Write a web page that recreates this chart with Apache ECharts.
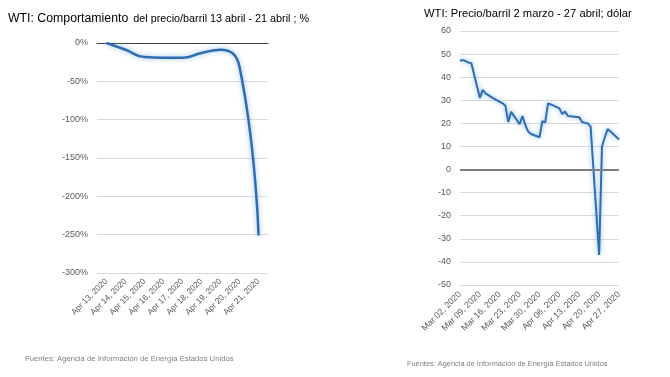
<!DOCTYPE html>
<html>
<head>
<meta charset="utf-8">
<script src="https://cdn.jsdelivr.net/npm/echarts@6/dist/echarts.min.js"></script>
<style>
html, body { margin: 0; padding: 0; background: #fff; }
#chart { width: 670px; height: 377px; }
</style>
</head>
<body>
<div id="chart"></div>
<script>
// Comportamiento del precio 13 - 21 abril (%)
var diasAbril = ['Apr 13, 2020', 'Apr 14, 2020', 'Apr 15, 2020', 'Apr 16, 2020', 'Apr 17, 2020',
    'Apr 18, 2020', 'Apr 19, 2020', 'Apr 20, 2020', 'Apr 21, 2020'];
var variacion = [0, -8.8, -18.4, -19.3, -19.3, -13, -8.8, -31, -251];

// Precio por barril 2 marzo - 27 abril (dolar)
var fechasWTI = ['2020-03-02', '2020-03-03', '2020-03-04', '2020-03-05', '2020-03-06',
    '2020-03-09', '2020-03-10', '2020-03-11', '2020-03-12', '2020-03-13',
    '2020-03-16', '2020-03-17', '2020-03-18', '2020-03-19', '2020-03-20',
    '2020-03-23', '2020-03-24', '2020-03-25', '2020-03-26', '2020-03-27',
    '2020-03-30', '2020-03-31', '2020-04-01', '2020-04-02', '2020-04-03',
    '2020-04-06', '2020-04-07', '2020-04-08', '2020-04-09',
    '2020-04-13', '2020-04-14', '2020-04-15', '2020-04-16', '2020-04-17',
    '2020-04-20', '2020-04-21', '2020-04-22', '2020-04-23', '2020-04-24',
    '2020-04-27'];
var preciosWTI = [47.1, 47.4, 47.0, 46.3, 46.0,
    31.0, 34.5, 33.0, 32.2, 31.4,
    29.3, 28.7, 27.6, 20.6, 25.0,
    19.6, 23.2, 19.3, 16.5, 15.4,
    14.0, 21.0, 20.4, 28.6, 28.2,
    26.5, 24.0, 25.1, 23.2,
    22.6, 20.6, 20.2, 20.0, 18.6,
    -37.0, 10.0, 14.0, 17.5, 16.5,
    13.0];

var meses = ['Jan', 'Feb', 'Mar', 'Apr', 'May', 'Jun', 'Jul', 'Aug', 'Sep', 'Oct', 'Nov', 'Dec'];

function etiquetaFecha(iso) {
    var p = iso.split('-');
    return meses[parseInt(p[1], 10) - 1] + ' ' + p[2] + ', ' + p[0];
}

// eje de fechas con todos los dias del calendario
var diasCalendario = [];
var d = new Date(Date.UTC(2020, 2, 2));
var fin = new Date(Date.UTC(2020, 3, 27));
while (d <= fin) {
    diasCalendario.push(etiquetaFecha(d.toISOString().slice(0, 10)));
    d.setUTCDate(d.getUTCDate() + 1);
}

var serieWTI = [];
for (var i = 0; i < fechasWTI.length; i++) {
    serieWTI.push([etiquetaFecha(fechasWTI[i]), preciosWTI[i]]);
}

var fuente = 'Liberation Sans';
var gris = '#595959';

var myChart = echarts.init(document.getElementById('chart'));
myChart.setOption({
    animation: false,
    textStyle: { fontFamily: fuente },
    title: [{
        left: 3,
        top: 5,
        text: '{a|WTI: Comportamiento} {b|del precio/barril 13 abril - 21 abril ; %}',
        textStyle: {
            fontWeight: 'normal',
            rich: {
                a: { fontFamily: fuente, fontSize: 12.3, fontWeight: 'normal', color: '#000' },
                b: { fontFamily: fuente, fontSize: 10.8, fontWeight: 'normal', color: '#000' }
            }
        }
    }, {
        left: 419,
        top: 3,
        text: 'WTI: Precio/barril 2 marzo - 27 abril; dólar',
        textStyle: { fontFamily: fuente, fontSize: 11.2, fontWeight: 'normal', color: '#000' }
    }, {
        left: 20,
        top: 350,
        text: 'Fuentes: Agencia de Información de Energía Estados Unidos',
        textStyle: { fontFamily: fuente, fontSize: 7.7, fontWeight: 'normal', color: '#7f7f7f' }
    }, {
        left: 402,
        top: 355,
        text: 'Fuentes: Agencia de Información de Energía Estados Unidos',
        textStyle: { fontFamily: fuente, fontSize: 7.4, fontWeight: 'normal', color: '#7f7f7f' }
    }],
    grid: [
        { left: 97, top: 43, width: 171, height: 230 },
        { left: 460, top: 31, width: 159, height: 254 }
    ],
    xAxis: [{
        gridIndex: 0,
        type: 'category',
        data: diasAbril,
        position: 'bottom',
        axisLine: { show: false },
        axisTick: { show: false },
        axisLabel: { rotate: 45, margin: 7, fontSize: 8.3, color: gris, interval: 0 }
    }, {
        // linea del 0% arriba con marcas
        gridIndex: 0,
        type: 'category',
        data: diasAbril,
        position: 'top',
        axisLine: { lineStyle: { color: '#404040', width: 1 } },
        axisTick: { inside: true, length: 3, lineStyle: { color: '#404040' } },
        axisLabel: { show: false }
    }, {
        gridIndex: 1,
        type: 'category',
        data: diasCalendario,
        boundaryGap: false,
        axisLine: { show: false },
        axisTick: { show: false },
        axisLabel: { rotate: 45, margin: 8, fontSize: 8.8, color: gris, interval: 6 }
    }],
    yAxis: [{
        gridIndex: 0,
        type: 'value',
        min: -300,
        max: 0,
        interval: 50,
        axisLine: { show: false },
        axisTick: { show: false },
        axisLabel: { fontSize: 9, color: gris, margin: 9, formatter: '{value}%' },
        splitLine: { lineStyle: { color: '#d9d9d9' } }
    }, {
        gridIndex: 1,
        type: 'value',
        min: -50,
        max: 60,
        interval: 10,
        axisLine: { show: false },
        axisTick: { show: false },
        axisLabel: { fontSize: 9, color: gris, margin: 9 },
        splitLine: { lineStyle: { color: '#d9d9d9' } }
    }],
    series: [{
        name: 'Variación',
        type: 'line',
        xAxisIndex: 0,
        yAxisIndex: 0,
        data: variacion,
        smooth: true,
        showSymbol: false,
        lineStyle: {
            width: 2.5,
            color: '#2e6db4',
            shadowColor: 'rgba(91,155,213,0.7)',
            shadowBlur: 5
        }
    }, {
        name: 'Precio',
        type: 'line',
        xAxisIndex: 2,
        yAxisIndex: 1,
        data: serieWTI,
        showSymbol: false,
        lineStyle: {
            width: 2,
            color: '#2e6db4',
            shadowColor: 'rgba(91,155,213,0.7)',
            shadowBlur: 5
        },
        markLine: {
            silent: true,
            symbol: 'none',
            label: { show: false },
            lineStyle: { color: '#7f7f7f', width: 2, type: 'solid' },
            data: [{ yAxis: 0 }]
        },
        z: 3
    }]
});
</script>
</body>
</html>
